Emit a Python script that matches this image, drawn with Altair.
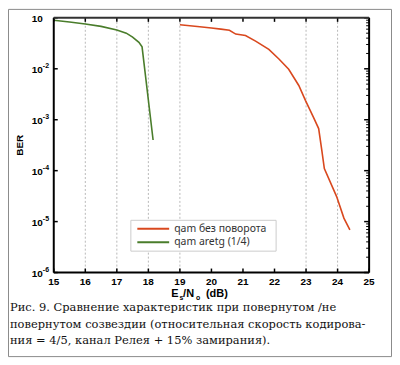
import altair as alt
import pandas as pd

W, H = 317, 256

# ---- data ----
snr_green = [15.0, 15.5, 16.0, 16.5, 17.0, 17.3, 17.5, 17.7, 17.8, 18.15]
ber_green = [0.090, 0.083, 0.076, 0.068, 0.058, 0.050, 0.042, 0.033, 0.027, 0.0004]

snr_red = [19.0, 19.63, 20.0, 20.3, 20.57, 20.77, 21.08, 21.4, 21.82, 22.14,
           22.45, 22.77, 22.98, 23.24, 23.4, 23.5, 23.58, 23.97, 24.2, 24.39]
ber_red = [0.073, 0.067, 0.063, 0.060, 0.057, 0.048, 0.045, 0.035, 0.024, 0.0156,
           0.0098, 0.0047, 0.0024, 0.0011, 6.7e-4, 2.5e-4, 1.1e-4, 3.1e-5, 1.17e-5, 6.9e-6]

series_names = ["qam без поворота", "qam aretg (1/4)"]
series_colors = ["#d9481e", "#4a7d2b"]

x_ticks = [15, 16, 17, 18, 19, 20, 21, 22, 23, 24, 25]
x_grid = [16, 17, 18, 19, 23, 24]
y_decades = [1e-1, 1e-2, 1e-3, 1e-4, 1e-5, 1e-6]
y_exponents = ["", "-2", "-3", "-4", "-5", "-6"]
y_minor = [m * d for d in [1e-6, 1e-5, 1e-4, 1e-3, 1e-2] for m in range(2, 10)]

xtitle_parts = ["E", "s", "/N", "o", "(dB)"]
ytitle_text = "BER"

caption_lines = [
    "Рис. 9. Сравнение характеристик при повернутом /не",
    "повернутом созвездии (относительная скорость кодирова-",
    "ния = 4/5, канал Релея + 15% замирания).",
]

# ---- frames ----
curves = pd.concat([
    pd.DataFrame({"snr": snr_red, "ber": ber_red, "series": series_names[0]}),
    pd.DataFrame({"snr": snr_green, "ber": ber_green, "series": series_names[1]}),
])
one = pd.DataFrame({"a": [0]})

xscale = alt.Scale(domain=[15, 25], nice=False, zero=False)
yscale = alt.Scale(type="log", domain=[1e-6, 1e-1], nice=False)


def X(f):
    return alt.X(f, type="quantitative", scale=xscale, axis=None)


def Y(f):
    return alt.Y(f, type="quantitative", scale=yscale, axis=None)


def label(text, px, py, **kw):
    return alt.Chart(pd.DataFrame({"t": [text]})).mark_text(**kw).encode(
        x=alt.value(px), y=alt.value(py), text="t:N")


layers = []

# outer frame
layers.append(alt.Chart(one).mark_rect(fill="white", stroke="#8a8a8a", strokeWidth=1).encode(
    x=alt.value(-45.5), x2=alt.value(339.5), y=alt.value(-8.5), y2=alt.value(340.5)))

# dashed grid
layers.append(alt.Chart(pd.DataFrame({"g": x_grid})).mark_rule(
    color="#b8b8b8", strokeDash=[2, 2], strokeWidth=1).encode(
    x=X("g"), y=alt.value(0), y2=alt.value(H)))

# curves
layers.append(alt.Chart(curves).mark_line(strokeWidth=1.6).encode(
    x=X("snr"), y=Y("ber"),
    color=alt.Color("series:N", scale=alt.Scale(domain=series_names, range=series_colors),
                    legend=None)))

# ticks (inward)
tk = pd.DataFrame({"t": x_ticks})
layers.append(alt.Chart(tk).mark_rule(color="#000", strokeWidth=1.5).encode(
    x=X("t"), y=alt.value(H), y2=alt.value(H - 4)))
layers.append(alt.Chart(tk).mark_rule(color="#000", strokeWidth=1.5).encode(
    x=X("t"), y=alt.value(0), y2=alt.value(4)))
dk = pd.DataFrame({"d": y_decades})
layers.append(alt.Chart(dk).mark_rule(color="#000", strokeWidth=1.5).encode(
    y=Y("d"), x=alt.value(0), x2=alt.value(4)))
layers.append(alt.Chart(dk).mark_rule(color="#000", strokeWidth=1.5).encode(
    y=Y("d"), x=alt.value(W), x2=alt.value(W - 5)))
layers.append(alt.Chart(pd.DataFrame({"m": y_minor})).mark_rule(color="#000", strokeWidth=1).encode(
    y=Y("m"), x=alt.value(W), x2=alt.value(W - 3)))

# plot box
layers.append(alt.Chart(one).mark_rule(color="#000", strokeWidth=2).encode(
    x=alt.value(0), y=alt.value(0), y2=alt.value(H)))
layers.append(alt.Chart(one).mark_rule(color="#000", strokeWidth=2).encode(
    x=alt.value(W), y=alt.value(0), y2=alt.value(H)))
layers.append(alt.Chart(one).mark_rule(color="#333", strokeWidth=2).encode(
    y=alt.value(0), x=alt.value(0), x2=alt.value(W)))
layers.append(alt.Chart(one).mark_rule(color="#000", strokeWidth=2).encode(
    y=alt.value(H), x=alt.value(0), x2=alt.value(W)))

# x tick labels
layers.append(alt.Chart(tk).mark_text(align="center", baseline="middle", font="Liberation Sans",
                                      fontWeight="bold", fontSize=10, color="#000").encode(
    x=X("t"), y=alt.value(H + 10), text="t:Q"))

# y tick labels with superscript exponents
ylab = pd.DataFrame({"d": y_decades, "e": y_exponents})
layers.append(alt.Chart(ylab).mark_text(align="right", baseline="middle", font="Liberation Sans",
                                        fontWeight="bold", fontSize=10, color="#000", dy=1).encode(
    y=Y("d"), x=alt.value(-11), text=alt.value("10")))
layers.append(alt.Chart(ylab).mark_text(align="left", baseline="middle", font="Liberation Sans",
                                        fontWeight="bold", fontSize=7, color="#000", dy=-3).encode(
    y=Y("d"), x=alt.value(-11), text="e:N"))

# axis titles
layers.append(label(ytitle_text, -34, 128, angle=270, font="Liberation Sans", fontWeight="bold",
                    fontSize=10, color="#000", baseline="middle", align="center"))
tstyle = dict(align="left", baseline="middle", font="Liberation Sans", fontWeight="bold", color="#000")
layers.append(label(xtitle_parts[0], 118, 278, fontSize=11, **tstyle))
layers.append(label(xtitle_parts[1], 126.5, 282, fontSize=7, **tstyle))
layers.append(label(xtitle_parts[2], 130, 278, fontSize=11, **tstyle))
layers.append(label(xtitle_parts[3], 143, 282, fontSize=7, **tstyle))
layers.append(label(xtitle_parts[4], 153, 278, fontSize=11, **tstyle))

# legend (drawn by hand)
layers.append(alt.Chart(one).mark_rect(fill="white", stroke="#cccccc", strokeWidth=1).encode(
    x=alt.value(77.5), x2=alt.value(223.5), y=alt.value(203.5), y2=alt.value(234.5)))
leg = pd.DataFrame({"name": series_names, "color": series_colors, "row": [0, 1]})
for i in range(2):
    yy = 212 + 13.5 * i
    row = leg.iloc[[i]]
    layers.append(alt.Chart(row).mark_rule(strokeWidth=2).encode(
        x=alt.value(84), x2=alt.value(116), y=alt.value(yy),
        color=alt.Color("color:N", scale=None)))
    layers.append(alt.Chart(row).mark_text(align="left", baseline="middle", font="Noto Sans",
                                           fontSize=10.5, color="#333").encode(
        x=alt.value(121), y=alt.value(yy), text="name:N"))

# caption
for i, line in enumerate(caption_lines):
    layers.append(label(line, -44, 292 + 16.5 * i, align="left", baseline="middle",
                        font="DejaVu Serif", fontSize=11.5, color="#111"))

chart = alt.layer(*layers).properties(
    width=W, height=H,
    padding={"left": 46, "top": 9, "right": 23, "bottom": 85},
    autosize=alt.AutoSizeParams(type="none"),
).configure_view(stroke=None)

chart.save("out.html", embed_options={"renderer": "svg", "actions": False})
